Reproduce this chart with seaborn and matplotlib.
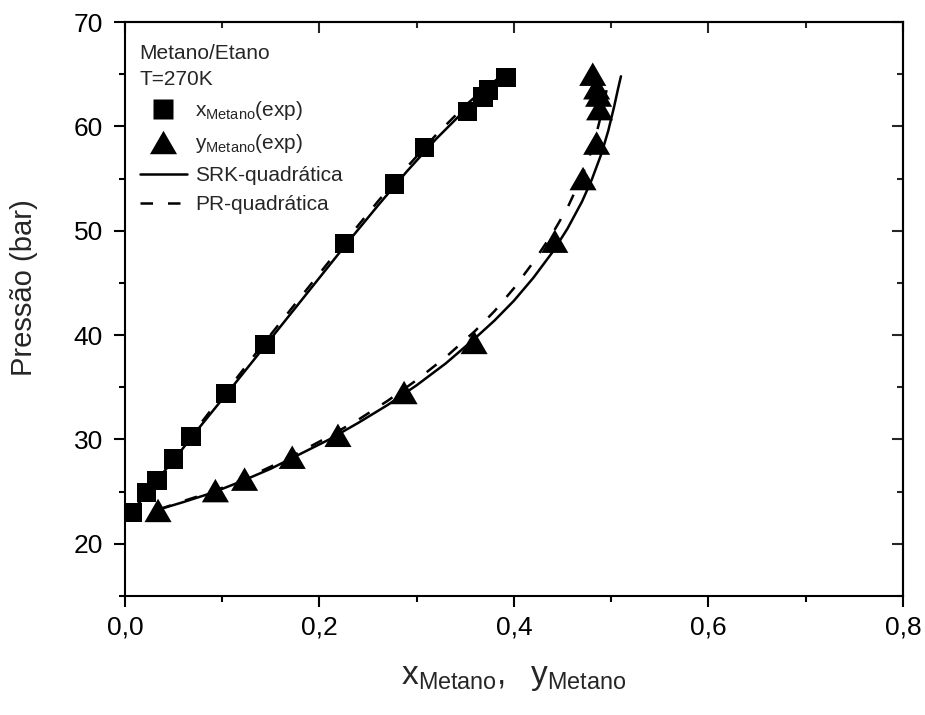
"""Diagrama P-x-y Metano/Etano a 270 K."""

import matplotlib
matplotlib.use('Agg')
import matplotlib.pyplot as plt
from matplotlib.lines import Line2D
from matplotlib.ticker import MultipleLocator
import seaborn as sns

# dados experimentais (fase liquida)
x_exp = [0.008, 0.022, 0.033, 0.050, 0.068, 0.104, 0.144, 0.226, 0.277,
         0.308, 0.352, 0.368, 0.374, 0.392]
p_x_exp = [23.0, 24.9, 26.05, 28.15, 30.3, 34.4, 39.1, 48.8, 54.5,
           58.0, 61.4, 62.8, 63.5, 64.7]

# dados experimentais (fase vapor)
y_exp = [0.034, 0.093, 0.123, 0.172, 0.219, 0.287, 0.359, 0.442, 0.471,
         0.485, 0.488, 0.487, 0.485, 0.481]
p_y_exp = [23.2, 25.1, 26.2, 28.3, 30.4, 34.5, 39.3, 49.0, 55.0,
           58.4, 61.7, 63.0, 63.7, 65.0]

# SRK-quadratica
srk_x = [0.010, 0.025, 0.040, 0.055, 0.070, 0.090, 0.110, 0.140, 0.170,
         0.200, 0.230, 0.260, 0.290, 0.320, 0.350, 0.375, 0.392]
srk_px = [23.4, 25.1, 26.9, 28.6, 30.4, 32.7, 35.0, 38.5, 42.0,
          45.5, 49.0, 52.4, 55.7, 58.8, 61.6, 63.6, 64.8]
srk_y = [0.035, 0.060, 0.090, 0.120, 0.150, 0.180, 0.210, 0.240, 0.270,
         0.300, 0.330, 0.360, 0.380, 0.400, 0.420, 0.440, 0.455, 0.470,
         0.480, 0.490, 0.497, 0.503, 0.507, 0.510]
srk_py = [23.3, 24.0, 24.9, 26.0, 27.2, 28.6, 30.0, 31.6, 33.3,
          35.2, 37.3, 39.7, 41.4, 43.3, 45.5, 48.0, 50.2, 52.8,
          54.9, 57.4, 59.6, 61.9, 63.6, 64.8]

# PR-quadratica
pr_x = [0.010, 0.025, 0.040, 0.055, 0.070, 0.090, 0.110, 0.140, 0.170,
        0.200, 0.230, 0.260, 0.290, 0.320, 0.350, 0.372, 0.390]
pr_px = [23.4, 25.2, 27.0, 28.8, 30.6, 33.0, 35.3, 38.9, 42.4,
         45.9, 49.4, 52.8, 56.1, 59.2, 62.0, 63.8, 65.0]
pr_y = [0.035, 0.060, 0.090, 0.120, 0.150, 0.180, 0.210, 0.240, 0.270,
        0.300, 0.330, 0.360, 0.380, 0.400, 0.420, 0.440, 0.455, 0.468,
        0.478, 0.485, 0.491, 0.495, 0.498]
pr_py = [23.3, 24.1, 25.0, 26.1, 27.4, 28.8, 30.3, 31.9, 33.7,
         35.7, 37.9, 40.4, 42.3, 44.5, 47.0, 49.8, 52.2, 54.8,
         57.2, 59.4, 61.6, 63.4, 64.8]

x_ticks = [0.0, 0.2, 0.4, 0.6, 0.8]
x_tick_labels = ['0,0', '0,2', '0,4', '0,6', '0,8']
y_ticks = [20, 30, 40, 50, 60, 70]

sns.set_theme(style='ticks')
plt.rcParams['font.family'] = ['Liberation Sans', 'DejaVu Sans']
plt.rcParams['mathtext.fontset'] = 'custom'
plt.rcParams['mathtext.rm'] = 'Liberation Sans'
plt.rcParams['mathtext.it'] = 'Liberation Sans:italic'

LW = 1.8
DASH = (0, (5, 6))
SQ_MS = 14
TRI_MS = 19.5
# triangulo equilatero centrado na caixa
TRI = [(-1, -0.866), (1, -0.866), (0, 0.866), (-1, -0.866)]

fig = plt.figure(figsize=(9.25, 7.15), dpi=100)
ax = fig.add_axes([0.1351, 0.1664, 0.8411, 0.8028])

sns.lineplot(x=srk_x, y=srk_px, sort=False, estimator=None, color='black',
             lw=LW, ax=ax, legend=False)
sns.lineplot(x=srk_y, y=srk_py, sort=False, estimator=None, color='black',
             lw=LW, ax=ax, legend=False)
sns.lineplot(x=pr_x, y=pr_px, sort=False, estimator=None, color='black',
             lw=LW, ls=DASH, ax=ax, legend=False)
sns.lineplot(x=pr_y, y=pr_py, sort=False, estimator=None, color='black',
             lw=LW, ls=DASH, ax=ax, legend=False)

sns.scatterplot(x=x_exp, y=p_x_exp, marker='s', s=SQ_MS ** 2, color='black',
                edgecolor='none', ax=ax, legend=False, zorder=3)
sns.scatterplot(x=y_exp, y=p_y_exp, marker=TRI, s=TRI_MS ** 2, color='black',
                edgecolor='none', ax=ax, legend=False, zorder=3)

ax.set_xlim(0, 0.8)
ax.set_ylim(15, 70)
ax.set_xticks(x_ticks)
ax.set_xticklabels(x_tick_labels)
ax.set_yticks(y_ticks)
ax.xaxis.set_minor_locator(MultipleLocator(0.1))
ax.yaxis.set_minor_locator(MultipleLocator(5))
ax.tick_params(which='major', direction='out', length=8, width=1.5,
               labelsize=19, colors='black', pad=6)
ax.tick_params(axis='y', which='major', pad=8)
ax.tick_params(which='minor', direction='out', length=4, width=1.5,
               colors='black')
for s in ax.spines.values():
    s.set_linewidth(1.5)
    s.set_color('black')

# eixos espelhados (ticks para dentro)
top = ax.secondary_xaxis('top')
top.set_xticks(x_ticks)
top.xaxis.set_minor_locator(MultipleLocator(0.1))
top.tick_params(which='major', direction='in', length=8, width=1.5,
                labeltop=False)
top.tick_params(which='minor', direction='in', length=4, width=1.5)
top.spines['top'].set_linewidth(1.5)
right = ax.secondary_yaxis('right')
right.set_yticks(y_ticks)
right.yaxis.set_minor_locator(MultipleLocator(5))
right.tick_params(which='major', direction='in', length=8, width=1.5,
                  labelright=False)
right.tick_params(which='minor', direction='in', length=4, width=1.5)
right.spines['right'].set_linewidth(1.5)

ax.set_xlabel(r'$\mathregular{x_{Metano},\ \ y_{Metano}}$', fontsize=24,
              labelpad=16)
ax.set_ylabel('Pressão (bar)', fontsize=21)
ax.yaxis.set_label_coords(-0.112, 0.538)

handles = [
    Line2D([], [], ls='none', marker='s', ms=SQ_MS, color='black',
           mec='none'),
    Line2D([], [], ls='none', marker=TRI, ms=TRI_MS, color='black',
           mec='none'),
    Line2D([], [], color='black', lw=LW),
    Line2D([], [], color='black', lw=LW, ls=DASH),
]
labels = [r'$\mathregular{x_{Metano}(exp)}$',
          r'$\mathregular{y_{Metano}(exp)}$',
          'SRK-quadrática', 'PR-quadrática']
leg = ax.legend(handles, labels, title='Metano/Etano\nT=270K',
                loc='upper left', bbox_to_anchor=(0.019, 0.962),
                frameon=False, fontsize=15, title_fontsize=15,
                alignment='left', handlelength=2.25, handletextpad=0.4,
                borderpad=0, borderaxespad=0, labelspacing=0.5)
leg.get_title().set_linespacing(1.45)

fig.savefig('out.png', dpi=100)
